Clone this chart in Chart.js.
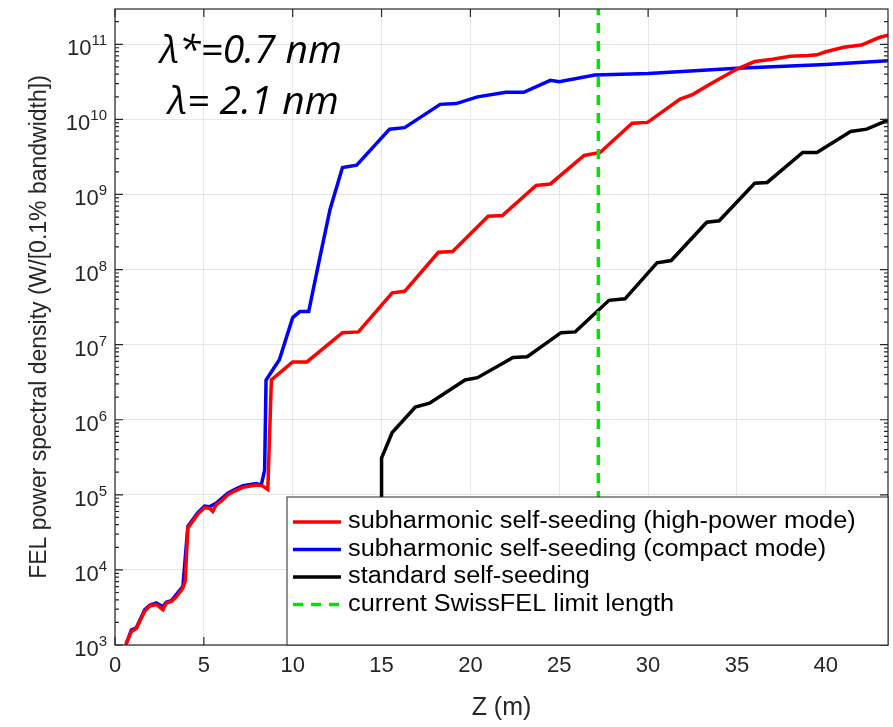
<!DOCTYPE html>
<html><head><meta charset="utf-8">
<script src="https://cdn.jsdelivr.net/npm/chart.js@4"></script>
<style>html,body{margin:0;background:#fff}#wrap{width:893px;height:727px}</style>
</head><body><div id="wrap"><canvas id="c" width="893" height="727"></canvas></div>
<script>
// values as log10(power spectral density)
const redZ=[0.6,0.92,1.2,1.67,1.95,2.32,2.7,2.88,3.17,3.45,3.82,3.95,4.1,4.38,4.65,5.04,5.32,5.5,5.7,6.0,6.35,6.73,7.2,7.95,8.3,8.6,8.8,10,10.8,12.8,13.7,15.6,16.3,18.2,19,21,21.8,23.7,24.5,26.4,27.3,29.1,29.97,31.8,32.5,33.5,35,36,37,38,39,39.5,40,41,42,43,43.5];
const redE=[3.0,3.18,3.22,3.45,3.52,3.54,3.47,3.56,3.58,3.64,3.76,3.85,4.56,4.65,4.74,4.83,4.82,4.78,4.87,4.92,5.0,5.05,5.1,5.13,5.12,5.07,6.53,6.77,6.77,7.16,7.17,7.69,7.71,8.23,8.24,8.71,8.72,9.12,9.14,9.52,9.56,9.95,9.96,10.27,10.33,10.47,10.67,10.77,10.8,10.84,10.85,10.86,10.9,10.96,10.99,11.09,11.12];
const blueZ=[0.64,0.92,1.2,1.67,1.95,2.32,2.7,2.88,3.17,3.45,3.82,4.1,4.38,4.65,5.04,5.32,5.7,6.35,6.73,7.2,7.95,8.23,8.42,8.5,9.25,10,10.4,10.9,11.5,12.1,12.8,13.6,15.45,16.3,18.3,19.2,20.4,22,23,24.5,25,27,30,35,40,43.5];
const blueE=[3.02,3.2,3.23,3.47,3.53,3.56,3.51,3.57,3.59,3.67,3.78,4.58,4.67,4.76,4.85,4.84,4.89,5.02,5.07,5.12,5.15,5.13,5.33,6.53,6.8,7.36,7.44,7.44,8.13,8.8,9.36,9.39,9.87,9.89,10.2,10.21,10.3,10.36,10.36,10.52,10.5,10.59,10.61,10.68,10.73,10.78];
const blackZ=[15.0,15.0,15.6,16.9,17.7,19.7,20.4,22.4,23.2,25.1,25.9,27.8,28.7,30.5,31.3,33.3,34.0,36.0,36.7,38.7,39.5,41.4,42.3,43.5];
const blackE=[2.5,5.49,5.83,6.17,6.22,6.53,6.56,6.83,6.84,7.16,7.17,7.59,7.61,8.09,8.12,8.63,8.65,9.15,9.16,9.56,9.56,9.84,9.87,9.99];
const limitZ=27.2;
const xTicks=[0,5,10,15,20,25,30,35,40];
const yDecades=[3,4,5,6,7,8,9,10,11];
const legendLabels=['subharmonic self-seeding (high-power mode)','subharmonic self-seeding (compact mode)','standard self-seeding','current SwissFEL limit length'];
const pts=(zs,es)=>zs.map((z,i)=>({x:z,y:Math.pow(10,es[i])}));
const YMAX=Math.pow(10,11.47);
const AX='#262626';

const deco={id:'deco',afterDraw(ch){
  const c=ch.ctx,a=ch.chartArea,xs=ch.scales.x,ys=ch.scales.y;
  c.save();
  c.strokeStyle=AX;c.lineWidth=1.2;
  xTicks.forEach(v=>{const p=xs.getPixelForValue(v);
    c.beginPath();c.moveTo(p,a.bottom);c.lineTo(p,a.bottom-8);c.moveTo(p,a.top);c.lineTo(p,a.top+8);c.stroke();});
  for(let d=3;d<=11;d++){for(let m=1;m<=9;m++){const v=m*Math.pow(10,d);if(v>YMAX)break;
    const p=ys.getPixelForValue(v),L=m===1?8:4;
    c.beginPath();c.moveTo(a.left,p);c.lineTo(a.left+L,p);c.moveTo(a.right,p);c.lineTo(a.right-L,p);c.stroke();}}
  c.strokeRect(a.left,a.top,a.right-a.left,a.bottom-a.top);
  c.fillStyle=AX;c.textBaseline='alphabetic';
  yDecades.forEach(d=>{const p=ys.getPixelForValue(Math.pow(10,d));
    c.font='15px "Liberation Sans"';c.textAlign='right';const e=String(d);c.fillText(e,107,p+1);
    const ew=c.measureText(e).width;c.font='22px "Liberation Sans"';c.fillText('10',107-ew,p+11);});
  c.fillStyle='#000';c.font='italic 39px "Open Sans"';c.textAlign='left';c.textBaseline='middle';
  c.fillText('λ*=0.7 nm',160,52);c.fillText('λ= 2.1 nm',168,103);
  const lx=287,ly=497,lw=a.right-lx,lh=a.bottom-ly;
  c.fillStyle='#fff';c.fillRect(lx,ly,lw,lh);c.strokeStyle=AX;c.lineWidth=1;c.strokeRect(lx,ly,lw,lh);
  const cols=['#ff0000','#0000ff','#000000','#00e600'];
  c.font='23px "Liberation Sans"';
  legendLabels.forEach((t,i)=>{const y=522+i*27.5;
    c.strokeStyle=cols[i];c.lineWidth=3.5;c.setLineDash(i===3?[10,8]:[]);
    c.beginPath();c.moveTo(293,y);c.lineTo(341,y);c.stroke();c.setLineDash([]);
    c.fillStyle='#000';c.save();c.translate(348,y);c.scale(1.1,1);c.fillText(t,0,0);c.restore();});
  c.restore();
}};

new Chart(document.getElementById('c'),{
  type:'line',
  data:{datasets:[
    {data:[{x:limitZ,y:1e3},{x:limitZ,y:YMAX}],borderColor:'#00e600',borderWidth:3.5,borderDash:[10,8],pointRadius:0},
    {data:pts(blackZ,blackE),borderColor:'#000',borderWidth:3.5,pointRadius:0},
    {data:pts(redZ,redE),borderColor:'#ff0000',borderWidth:3.5,pointRadius:0},
    {data:pts(blueZ,blueE),borderColor:'#0000ff',borderWidth:3.5,pointRadius:0}
  ]},
  options:{responsive:false,animation:false,
    layout:{padding:{top:9,right:5,left:0,bottom:0}},
    plugins:{legend:{display:false},tooltip:{enabled:false}},
    scales:{
      x:{type:'linear',min:0,max:43.5,
        afterBuildTicks(s){s.ticks=xTicks.map(v=>({value:v}));},
        afterFit(s){s.height=82;},
        ticks:{color:AX,font:{size:22,family:'"Liberation Sans"'},maxRotation:0,padding:8},
        grid:{color:'#e6e6e6',drawTicks:false},border:{display:false},
        title:{display:true,text:'Z (m)',color:AX,font:{size:25,family:'"Liberation Sans"'},padding:{top:2}}},
      y:{type:'logarithmic',min:1e3,max:YMAX,
        afterBuildTicks(s){s.ticks=yDecades.map(d=>({value:Math.pow(10,d)}));},
        afterFit(s){s.width=115;},
        ticks:{display:false},
        grid:{color:'#e6e6e6',drawTicks:false},border:{display:false},
        title:{display:false}}
    }},
  plugins:[deco,{id:'ytitle',afterDraw(ch){const c=ch.ctx,a=ch.chartArea;c.save();
    c.translate(40,(a.top+a.bottom)/2);c.rotate(-Math.PI/2);c.fillStyle=AX;c.font='23px "Liberation Sans"';
    c.textAlign='center';c.textBaseline='middle';c.fillText('FEL power spectral density (W/[0.1% bandwidth])',0,0);c.restore();}}]
});
</script></body></html>
